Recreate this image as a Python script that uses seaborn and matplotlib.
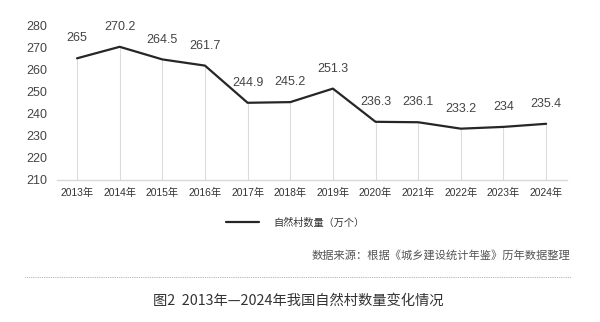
import matplotlib
matplotlib.use("Agg")
import matplotlib.pyplot as plt
import seaborn as sns
import pandas as pd
from matplotlib.lines import Line2D

years = ["2013年", "2014年", "2015年", "2016年", "2017年", "2018年",
         "2019年", "2020年", "2021年", "2022年", "2023年", "2024年"]
villages = [265, 270.2, 264.5, 261.7, 244.9, 245.2, 251.3, 236.3, 236.1, 233.2, 234, 235.4]
yticks = [210, 220, 230, 240, 250, 260, 270, 280]
series_name = "自然村数量（万个）"
source_note = "数据来源：根据《城乡建设统计年鉴》历年数据整理"
caption = "图2  2013年—2024年我国自然村数量变化情况"

sns.set_theme(style="white")
plt.rcParams["font.family"] = ["Noto Sans CJK SC", "DejaVu Sans"]

df = pd.DataFrame({"x": range(len(years)), "year": years, "value": villages})

fig = plt.figure(figsize=(6.0, 3.22), dpi=100)
ax = fig.add_axes([0.095, 0.441, 0.85, 0.481])

sns.lineplot(data=df, x="x", y="value", ax=ax, color="#262626", linewidth=1.6)

ax.set_xlim(-0.47, 11.49)
ax.set_ylim(210, 280)
ax.set_yticks(yticks)
ax.set_xticks(df["x"])
ax.set_xticklabels(years)
ax.set_xlabel("")
ax.set_ylabel("")

# vertical guides from the baseline up to each point
for xi, v in zip(df["x"], df["value"]):
    ax.plot([xi, xi], [210, v], color="#dcdcdc", linewidth=0.8, zorder=0)

for s in ["top", "right", "left"]:
    ax.spines[s].set_visible(False)
ax.spines["bottom"].set_color("#d9d9d9")
ax.spines["bottom"].set_linewidth(1.0)

ax.tick_params(axis="y", length=0, labelsize=9, labelcolor="#444444", pad=7)
ax.tick_params(axis="x", length=0, labelsize=7.4, labelcolor="#333333", pad=6)
for lab in ax.get_yticklabels() + ax.get_xticklabels():
    lab.set_family(["Liberation Sans", "Noto Sans CJK SC"])

for xi, v in zip(df["x"], df["value"]):
    ax.annotate(f"{v:g}", (xi, v), xytext=(0, 10), textcoords="offset points",
                ha="center", va="bottom", fontsize=9, color="#444444",
                family=["Liberation Sans", "DejaVu Sans"])

handle = Line2D([], [], color="#262626", linewidth=1.6)
fig.legend([handle], [series_name], loc="center", bbox_to_anchor=(0.492, 0.308),
           frameon=False, fontsize=7.3, handlelength=3.2, handletextpad=1.4,
           labelcolor="#333333")

fig.text(0.95, 0.206, source_note, ha="right", va="center", fontsize=8.1,
         color="#555555", family=["Noto Sans CJK SC", "DejaVu Sans"])

fig.add_artist(Line2D([0.042, 0.952], [0.141, 0.141], transform=fig.transFigure,
                      color="#9a9a9a", linewidth=0.6, linestyle=(0, (1, 1.2))))

fig.text(0.4975, 0.066, caption, ha="center", va="center", fontsize=10.3,
         color="#333333", family=["Noto Sans CJK SC", "DejaVu Sans"])

fig.savefig("out.png", dpi=100, facecolor="white")
